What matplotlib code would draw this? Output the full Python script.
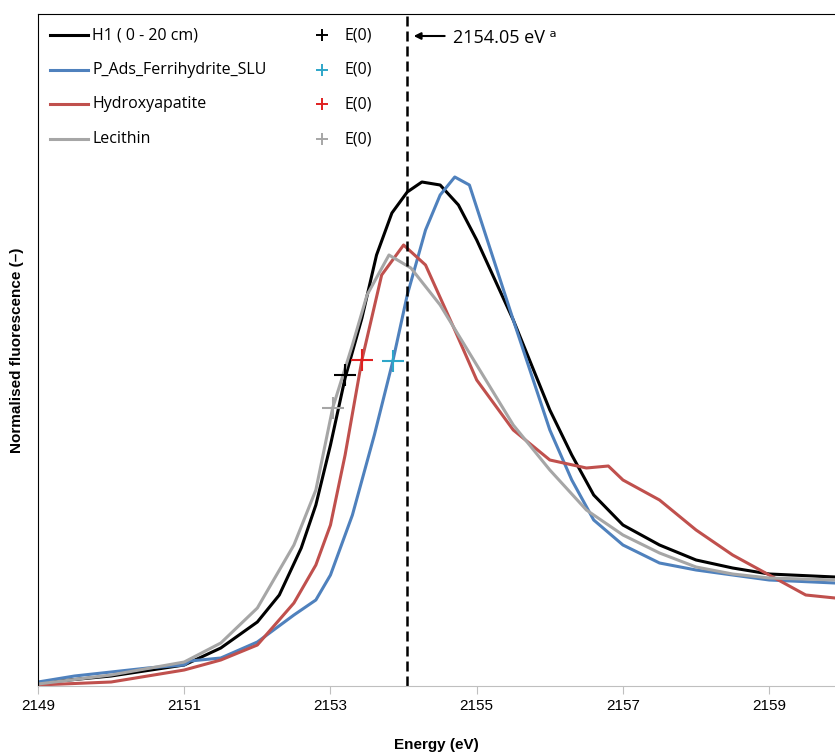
import matplotlib
matplotlib.use("Agg")
import matplotlib.pyplot as plt
import numpy as np

plt.rcParams["font.family"] = ["Liberation Sans", "DejaVu Sans"]

h1_e = [2149, 2150, 2151, 2151.5, 2152, 2152.3, 2152.6, 2152.8, 2153, 2153.2, 2153.43, 2153.63, 2153.84, 2154.05,
        2154.25, 2154.5, 2154.75, 2155, 2155.5, 2156, 2156.3, 2156.6, 2157, 2157.5, 2158, 2158.5, 2159, 2159.9]
h1_px = [683, 676, 665, 648, 622, 595, 548, 505, 445, 378, 318, 255, 213, 192,
         182, 185, 205, 240, 320, 410, 455, 495, 525, 545, 560, 568, 574, 577]
fh_e = [2149, 2149.5, 2150, 2150.5, 2151, 2151.08, 2151.5, 2152, 2152.5, 2152.8, 2153, 2153.3, 2153.6, 2153.85,
        2154.05, 2154.3, 2154.5, 2154.7, 2154.9, 2155.1, 2155.5, 2156, 2156.3, 2156.6, 2157, 2157.5, 2158,
        2158.5, 2159, 2159.9]
fh_px = [682, 676, 672, 668, 665, 661, 658, 642, 615, 600, 575, 515, 435, 362,
         295, 230, 195, 177, 185, 230, 320, 430, 480, 520, 545, 563, 570, 575, 580, 583]
hap_e = [2149, 2150, 2151, 2151.5, 2152, 2152.5, 2152.8, 2153, 2153.2, 2153.43, 2153.7, 2154, 2154.3, 2154.7,
         2155, 2155.5, 2156, 2156.5, 2156.8, 2157, 2157.5, 2158, 2158.5, 2159, 2159.5, 2159.9]
hap_px = [685, 682, 670, 660, 645, 603, 565, 525, 455, 360, 275, 245, 265, 330,
          380, 430, 460, 468, 466, 480, 500, 530, 555, 575, 595, 598]
lec_e = [2149, 2150, 2151, 2151.5, 2152, 2152.5, 2152.8, 2153.03, 2153.3, 2153.5, 2153.8, 2154.1, 2154.5,
         2155, 2155.5, 2156, 2156.5, 2157, 2157.5, 2158, 2158.5, 2159, 2159.9]
lec_px = [684, 675, 662, 643, 608, 545, 490, 408, 345, 295, 255, 268, 305,
          365, 425, 470, 510, 535, 553, 567, 574, 578, 580]

e0_e = [2153.2, 2153.85, 2153.43, 2153.03]
e0_px = [375, 361, 360, 408]

names = ["H1 ( 0 - 20 cm)", "P_Ads_Ferrihydrite_SLU", "Hydroxyapatite", "Lecithin"]
line_cols = ["black", "#4F81BD", "#C0504D", "#A6A6A6"]
mark_cols = ["black", "#2EA6C9", "#E02020", "#A6A6A6"]
E_LINE = 2154.05


def norm(px):
    return (686 - np.array(px)) / 672.0


fig = plt.figure(figsize=(8.35, 7.52), dpi=100)
ax = fig.add_axes([38 / 835, 1 - 686 / 752, 1 - 38 / 835, 672 / 752])

series = [(h1_e, h1_px), (fh_e, fh_px), (hap_e, hap_px), (lec_e, lec_px)]
for (e, p), c in zip(series, line_cols):
    ax.plot(e, norm(p), color=c, lw=2.2)
for i in range(4):
    ax.plot(e0_e[i], norm([e0_px[i]])[0], marker="+", ms=16, mew=1.5, color=mark_cols[i], ls="none")

ax.axvline(E_LINE, color="black", ls=(0, (4, 2)), lw=1.8)
ax.annotate("", xy=(E_LINE + 0.05, norm([36])[0]), xytext=(E_LINE + 0.55, norm([36])[0]),
            arrowprops=dict(arrowstyle="-|>", color="black", lw=1.5))
ax.text(E_LINE + 0.62, norm([38])[0], "2154.05 eV ᵃ", va="center", fontsize=13,
        family=["Open Sans", "DejaVu Sans"])

ax.set_xlim(2149, 2159.9)
ax.set_ylim(0, 1)
ax.set_xticks([2149, 2151, 2153, 2155, 2157, 2159])
ax.tick_params(axis="x", length=6, labelsize=11, color="#BFBFBF")
ax.set_yticks([])
ax.spines["right"].set_visible(False)
ax.spines["bottom"].set_color("#BFBFBF")
ax.set_xlabel("Energy (eV)", fontweight="bold", fontsize=11, labelpad=18)
ax.set_ylabel("Normalised fluorescence (–)", fontweight="bold", fontsize=11, labelpad=10)

# hand-drawn legend, in axes fraction
tr = ax.transAxes
for i, (n, lc, mc) in enumerate(zip(names, line_cols, mark_cols)):
    y = 1 - (21 + 34.7 * i) / 672
    ax.plot([12 / 797, 50 / 797], [y, y], color=lc, lw=2.2, transform=tr, clip_on=False)
    ax.text(54 / 797, y, n, transform=tr, va="center", fontsize=11.5,
            family=["Open Sans", "DejaVu Sans"])
    ax.plot(284 / 797, y, marker="+", ms=9, mew=1.4, color=mc, transform=tr)
    ax.text(306 / 797, y, "E(0)", transform=tr, va="center", fontsize=11.5,
            family=["Open Sans", "DejaVu Sans"])

fig.savefig("out.png", dpi=100)
